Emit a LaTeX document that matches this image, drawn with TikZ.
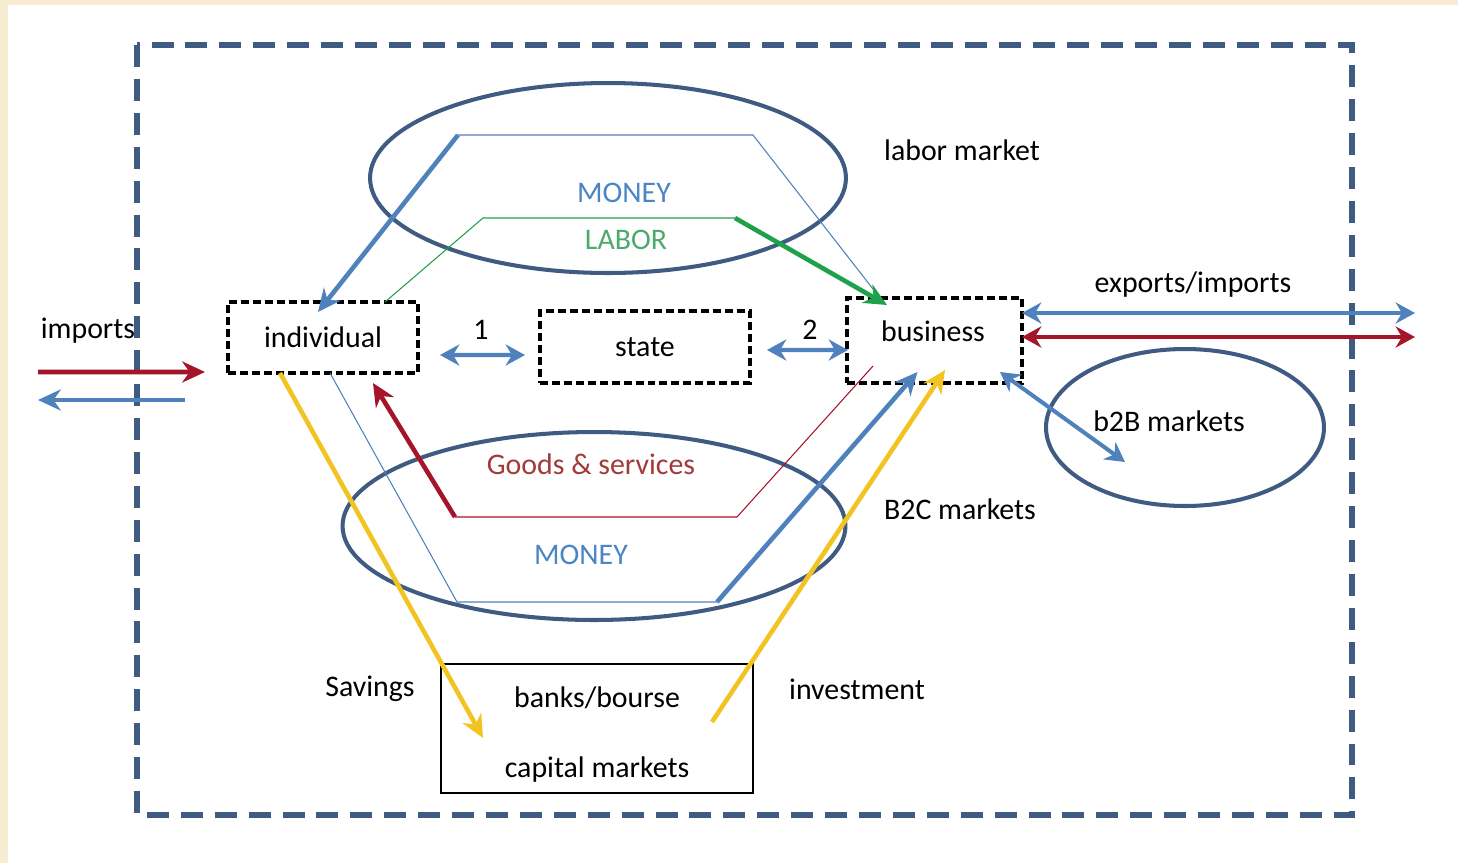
\documentclass[tikz,border=0pt]{standalone}
\usepackage{fontspec}
\setmainfont{Carlito}
\usetikzlibrary{shapes.geometric,arrows.meta}
\definecolor{beige}{HTML}{F7EBD1}
\definecolor{frameblue}{HTML}{3F5B82}
\definecolor{flowblue}{HTML}{4F81BD}
\definecolor{moneytxt}{HTML}{4A86C4}
\definecolor{laborgreen}{HTML}{1FA04A}
\definecolor{labortxt}{HTML}{4DAA6A}
\definecolor{goodsred}{HTML}{A5152A}
\definecolor{goodstxt}{HTML}{A33A3A}
\definecolor{saveyellow}{HTML}{F2C422}
\begin{document}
\begin{tikzpicture}[x=0.02cm,y=-0.02cm]
	\tikzstyle{every node}+=[inner sep=0pt,outer sep=0pt,font=\fontsize{17}{19}\selectfont]
	\tikzstyle{agent}=[rectangle,draw=black,line width=2.1pt,dash pattern=on 4.5pt off 2.3pt]
	\tikzstyle{market}=[ellipse,draw=frameblue,line width=2.3pt]
	\tikzstyle{thinln}=[line width=0.6pt]
	\tikzstyle{flow}=[line width=2.6pt,-{Stealth[length=13pt,width=12pt]}]
	\tikzstyle{twoway}=[line width=2.3pt,{Stealth[length=11pt,width=12pt]}-{Stealth[length=11pt,width=12pt]}]
	\useasboundingbox (0,0) rectangle (1458,863);
	\fill [beige] (0,0) rectangle (1458,863);
	\fill [white] (8,5) rectangle (1458,863);
	\draw [frameblue,line width=3.4pt,dash pattern=on 12.5pt off 6.8pt] (137,45) rectangle (1352,815);
	\node [market,minimum width=9.52cm,minimum height=3.8cm] (labormkt) at (608,178) {};
	\node [market,minimum width=10.06cm,minimum height=3.76cm] (b2cmkt) at (594,526) {};
	\node [market,minimum width=5.56cm,minimum height=3.14cm] (b2bmkt) at (1185,427.5) {};
	\node [agent,minimum width=3.8cm,minimum height=1.42cm] (individual) at (323,337.5) {individual};
	\node [agent,minimum width=4.2cm,minimum height=1.44cm] (state) at (645,347) {state};
	\node [agent,minimum width=3.5cm,minimum height=1.7cm] (business) at (934.5,340.5) {};
	\node (businesstxt) at (933,331) {business};
	\node [rectangle,draw=black,line width=1.1pt,minimum width=6.24cm,minimum height=2.58cm] (banks) at (597,728.5) {};
	\node (bankstxt) at (597,698) {banks/bourse};
	\node (capitaltxt) at (597,770) {capital markets};
	\node (labormkttxt) at (962,150) {labor market};
	\node [text=moneytxt] (moneyup) at (624,193) {MONEY};
	\node [text=labortxt] (labor) at (626,240) {LABOR};
	\node [text=goodstxt] (goods) at (591,464) {Goods \& services};
	\node [text=moneytxt] (moneydown) at (581,555) {MONEY};
	\node (b2ctxt) at (960,509) {B2C markets};
	\node (b2btxt) at (1169,421) {b2B markets};
	\node (exporttxt) at (1193,285) {exports/imports};
	\node (importtxt) at (88,331) {imports};
	\node (one) at (481,330) {1};
	\node (two) at (810,330) {2};
	\node (savingstxt) at (370,689) {Savings};
	\node (investtxt) at (857,689) {investment};
	\coordinate (mu1) at (753,135);
	\coordinate (mu2) at (458,135);
	\coordinate (lb1) at (483,218);
	\coordinate (lb2) at (735,218);
	\coordinate (gs1) at (737,517);
	\coordinate (gs2) at (455,517);
	\coordinate (md1) at (457,602);
	\coordinate (md2) at (717,602);
	\coordinate (outblue) at (1415,313);
	\coordinate (outred) at (1415,337);
	\coordinate (inred) at (38,372);
	\coordinate (outleft) at (38,400);
	\coordinate (leftstart) at (185,400);
	\draw [flowblue,thinln] ([shift={(33,0)}]business.north west) -- (mu1) -- (mu2);
	\draw [flowblue,flow] (mu2) -- ([shift={(-5,10)}]individual.north);
	\draw [laborgreen,thinln] ([shift={(-33,0)}]individual.north east) -- (lb1) -- (lb2);
	\draw [laborgreen,flow] (lb2) -- ([shift={(40,7)}]business.north west);
	\draw [goodsred,thinln] ([shift={(26,-17)}]business.south west) -- (gs1) -- (gs2);
	\draw [goodsred,flow] (gs2) -- ([shift={(50,10)}]individual.south);
	\draw [flowblue,thinln] ([shift={(7,0)}]individual.south) -- (md1) -- (md2);
	\draw [flowblue,flow] (md2) -- ([shift={(-17,-11)}]business.south);
	\draw [saveyellow,flow] ([shift={(-43,0)}]individual.south) -- ([shift={(42,9.5)}]banks.west);
	\draw [saveyellow,flow] ([shift={(-41,-6.5)}]banks.east) -- ([shift={(10.5,-13)}]business.south);
	\draw [flowblue,twoway] ([shift={(22,17.5)}]individual.east) -- ([shift={(-15,8)}]state.west);
	\draw [flowblue,twoway] ([shift={(17,3)}]state.east) -- ([shift={(1,9.5)}]business.west);
	\draw [flowblue,twoway] ([shift={(-22,-11)}]business.south east) -- ([shift={(-60,34.5)}]b2bmkt.center);
	\draw [flowblue,twoway] ([shift={(0,-27.5)}]business.east) -- (outblue);
	\draw [goodsred,twoway] ([shift={(0,-3.5)}]business.east) -- (outred);
	\draw [goodsred,flow] (inred) -- ([shift={(-23,34.5)}]individual.west);
	\draw [flowblue,flow,line width=2.3pt] (leftstart) -- (outleft);
\end{tikzpicture}
\end{document}
